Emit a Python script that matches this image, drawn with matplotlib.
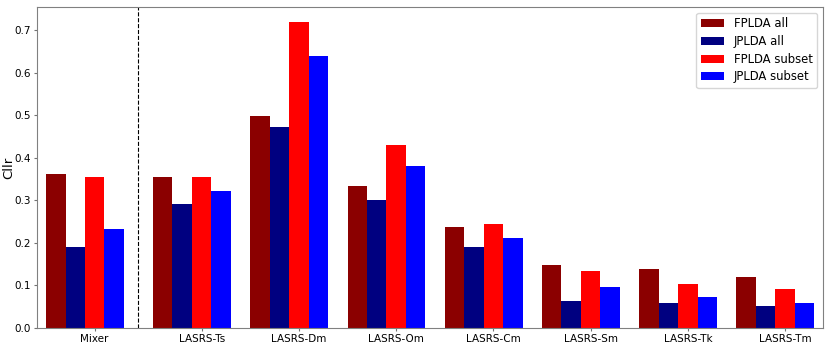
import numpy as np
import matplotlib.pyplot as plt

datasets = ['Mixer', 'LASRS-Ts', 'LASRS-Dm', 'LASRS-Om', 'LASRS-Cm', 'LASRS-Sm', 'LASRS-Tk', 'LASRS-Tm']
fplda_all = [0.362, 0.356, 0.499, 0.333, 0.237, 0.147, 0.138, 0.120]
jplda_all = [0.191, 0.291, 0.473, 0.302, 0.190, 0.063, 0.058, 0.051]
fplda_subset = [0.355, 0.354, 0.719, 0.431, 0.244, 0.135, 0.104, 0.091]
jplda_subset = [0.233, 0.322, 0.639, 0.380, 0.211, 0.097, 0.073, 0.059]

# Mixer a bit further apart from the LASRS sets
x = np.array([0.0] + [1.1 + k for k in range(len(datasets) - 1)])
w = 0.2

fig = plt.figure(figsize=(8.3, 3.46), dpi=100)
ax = fig.add_axes([0.0446, 0.052, 0.947, 0.928])

ax.bar(x - 2 * w, fplda_all, w, color='darkred', label='FPLDA all')
ax.bar(x - w, jplda_all, w, color='navy', label='JPLDA all')
ax.bar(x, fplda_subset, w, color='red', label='FPLDA subset')
ax.bar(x + w, jplda_subset, w, color='blue', label='JPLDA subset')

ax.axvline(0.45, color='black', linestyle='--', linewidth=0.8)

ax.set_xticks(x)
ax.set_xticklabels(datasets, fontsize=7.5)
ax.tick_params(axis='both', labelsize=7.5, length=2.5, pad=2, color='0.45')
ax.set_ylabel('Cllr', fontsize=9.5)
ax.yaxis.set_label_coords(-0.028, 0.5)
ax.set_xlim(-0.593, 7.49)
ax.set_ylim(0, 0.755)

for s in ax.spines.values():
    s.set_color('0.5')
    s.set_linewidth(0.8)

ax.legend(loc='upper right', fontsize=8.4, labelspacing=0.4)

plt.savefig('out.png', dpi=100)
